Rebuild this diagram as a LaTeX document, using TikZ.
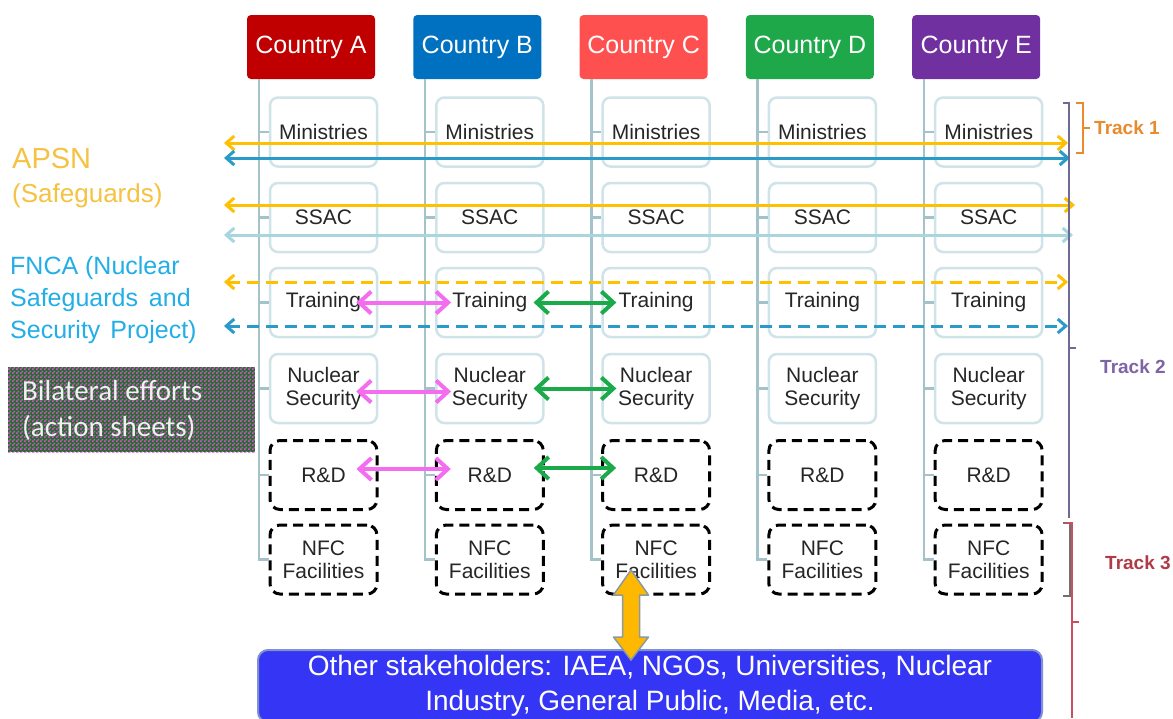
\documentclass[tikz,border=0pt]{standalone}
\usepackage{fontspec}
\setmainfont{Liberation Sans}
\newfontfamily\calib{Carlito}
\usetikzlibrary{arrows.meta,patterns,calc}
\definecolor{cA}{HTML}{C00000}
\definecolor{cB}{HTML}{0070C0}
\definecolor{cC}{HTML}{FF5050}
\definecolor{cD}{HTML}{1EA84A}
\definecolor{cE}{HTML}{7030A0}
\definecolor{boxline}{HTML}{CFE3E8}
\definecolor{trunkc}{HTML}{A3C2CA}
\definecolor{txt}{HTML}{262626}
\definecolor{ylw}{HTML}{FFC000}
\definecolor{blu}{HTML}{2A9BC8}
\definecolor{lblu}{HTML}{A9D5DE}
\definecolor{pnk}{HTML}{F46CF0}
\definecolor{grn}{HTML}{1AAA4A}
\definecolor{botblue}{HTML}{3535F5}
\definecolor{botline}{HTML}{8090D0}
\definecolor{apsn}{HTML}{F5C242}
\definecolor{fnca}{HTML}{22AEE6}
\definecolor{bgreen}{HTML}{236E2C}
\definecolor{bmag}{HTML}{D84FCF}
\definecolor{tr1}{HTML}{E88A2E}
\definecolor{tr2}{HTML}{7E64A6}
\definecolor{tr3}{HTML}{B03A48}
\definecolor{tr2line}{HTML}{6E6A96}
\definecolor{tr3line}{HTML}{C8505E}
\definecolor{nfcbr}{HTML}{707070}
\definecolor{orarrow}{HTML}{FFB800}
\definecolor{orline}{HTML}{8A9AA0}
\pgfdeclarepatternformonly{checker}{\pgfpointorigin}{\pgfqpoint{4pt}{4pt}}{\pgfqpoint{4pt}{4pt}}{%
  \pgfpathrectangle{\pgfpointorigin}{\pgfqpoint{2pt}{2pt}}%
  \pgfpathrectangle{\pgfqpoint{2pt}{2pt}}{\pgfqpoint{2pt}{2pt}}%
  \pgfusepath{fill}}
\tikzset{
  hdr/.style={rounded corners=4pt, minimum width=128pt, minimum height=64pt, inner sep=0pt,
    text=white, font=\fontsize{25}{28}\selectfont},
  sbox/.style={draw=boxline, line width=2.5pt, fill=white, rounded corners=8pt,
    minimum width=107pt, minimum height=69pt, inner sep=0pt, align=center, text=txt,
    font=\fontsize{21}{23}\selectfont},
  dbox/.style={sbox, draw=black, line width=3pt, dash pattern=on 10pt off 6pt, rounded corners=10pt},
  trunk/.style={draw=trunkc, line width=2.5pt},
  longarr/.style={line width=3pt, {Straight Barb[length=8pt,width=14pt]}-{Straight Barb[length=8pt,width=14pt]}},
  pairarr/.style={line width=4pt, {Straight Barb[length=12pt,width=22pt]}-{Straight Barb[length=12pt,width=22pt]}},
  dsh/.style={dash pattern=on 12pt off 7pt},
  trk/.style={font=\bfseries\fontsize{19}{21}\selectfont, anchor=west, inner sep=0pt},
  brk/.style={line width=1.2pt},
}
\begin{document}
\begin{tikzpicture}[x=1pt,y=-1pt]
\useasboundingbox (0,0) rectangle (1173,718);
\fill[white] (0,0) rectangle (1173,718);
% columns
\foreach \i/\L/\c in {0/A/cA,1/B/cB,2/C/cC,3/D/cD,4/E/cE}{
  \pgfmathsetmacro\tx{259+166.3*\i}
  \node[hdr, fill=\c] (h\L) at (\tx+52,47) {Country \L};
  \node[sbox] (min\L) at (\tx+64.5,132) {Ministries};
  \node[sbox] (ssac\L) at (\tx+64.5,217.5) {SSAC};
  \node[sbox] (tr\L) at (\tx+64.5,302.5) {Training};
  \node[sbox] (ns\L) at (\tx+64.5,388.5) {Nuclear\\Security};
  \node[dbox] (rd\L) at (\tx+64.5,475) {R\&D};
  \node[dbox] (nfc\L) at (\tx+64.5,559.5) {NFC\\Facilities};
  \draw[trunk] ([xshift=12pt]h\L.south west) |- (nfc\L.west);
  \foreach \n in {min,ssac,tr,ns,rd} \draw[trunk] (\n\L.west) -- ++(-11,0);
}
% long arrows
\coordinate (l1) at (224,143); \coordinate (r1) at (1068,143);
\coordinate (l2) at (224,158); \coordinate (r2) at (1070,158);
\coordinate (l3) at (224,205); \coordinate (r3) at (1075,205);
\coordinate (l4) at (224,235); \coordinate (r4) at (1073,235);
\coordinate (l5) at (224,282); \coordinate (r5) at (1068,282);
\coordinate (l6) at (224,326); \coordinate (r6) at (1068,326);
\draw[longarr, ylw] (l1) -- (r1);
\draw[longarr, blu] (l2) -- (r2);
\draw[longarr, ylw] (l3) -- (r3);
\draw[longarr, lblu] (l4) -- (r4);
\draw[longarr, ylw, dsh] (l5) -- (r5);
\draw[longarr, blu, dsh] (l6) -- (r6);
% bilateral arrows
\draw[pairarr, pnk] ([xshift=-22pt]trA.east) -- ([xshift=16pt]trB.west);
\draw[pairarr, pnk] ([xshift=-22pt,yshift=-3pt]nsA.east) -- ([xshift=16pt,yshift=-3pt]nsB.west);
\draw[pairarr, pnk] ([xshift=-22pt,yshift=6pt]rdA.east) -- ([xshift=16pt,yshift=6pt]rdB.west);
\draw[pairarr, grn] ([xshift=-11pt]trB.east) -- ([xshift=15pt]trC.west);
\draw[pairarr, grn] ([xshift=-11pt]nsB.east) -- ([xshift=15pt]nsC.west);
\draw[pairarr, grn] ([xshift=-11pt,yshift=7pt]rdB.east) -- ([xshift=15pt,yshift=7pt]rdC.west);
% other stakeholders
\node[draw=botline, line width=2pt, fill=botblue, rounded corners=10pt, minimum width=784pt,
  minimum height=72pt, inner sep=0pt, align=center, text=white,
  font=\fontsize{28}{35}\selectfont] (oth) at (650,686)
  {Other stakeholders: IAEA, NGOs, Universities, Nuclear\\Industry, General Public, Media, etc.};
% orange double block arrow between NFC (C) and the stakeholders box
\coordinate (oat) at (631,570);
\coordinate (oab) at (631,660);
\draw[draw=orline, line width=1.5pt, fill=orarrow, line join=round]
  (oat) -- ++(17.5,25) -- ++(-9,0) -- ($(oab)+(8.5,-23)$) -- ++(9,0) -- (oab)
  -- ++(-17.5,-23) -- ++(9,0) -- ($(oat)+(-8.5,25)$) -- ++(-9,0) -- cycle;
% left texts
\node[anchor=west, inner sep=0pt, text=apsn, font=\fontsize{29}{32}\selectfont] (apsn) at (12,159) {APSN};
\node[anchor=west, inner sep=0pt, text=apsn, font=\fontsize{26}{30}\selectfont] (safe) at (12,196) {(Safeguards)};
\node[anchor=west, inner sep=0pt, text=fnca, font=\fontsize{25}{30}\selectfont] (f1) at (10,268) {FNCA (Nuclear};
\node[anchor=west, inner sep=0pt, text=fnca, font=\fontsize{25}{30}\selectfont] (f2) at (10,300) {Safeguards\hspace{4pt} and};
\node[anchor=west, inner sep=0pt, text=fnca, font=\fontsize{25}{30}\selectfont] (f3) at (10,332) {Security\hspace{3pt} Project)};
\node[fill=bgreen, postaction={pattern=checker, pattern color=bmag}, minimum width=247pt,
  minimum height=85pt, inner sep=0pt] (bil) at (131.5,409.5) {};
\node[anchor=west, inner sep=0pt, align=left, text=white!94!black, font=\calib\fontsize{29}{36}\selectfont]
  (biltxt) at (22,410) {Bilateral efforts\\(action sheets)};
% track brackets
\draw[brk, tr1] (1076,103) -- (1083,103) -- (1083,153) -- (1076,153);
\draw[brk, tr1] (1083,128) -- (1090,128);
\node[trk, text=tr1] (t1) at (1094,128) {Track 1};
\draw[brk, tr2line] (1063,103) -- (1069,103) -- (1069,518);
\draw[brk, tr2line] (1069,348) -- (1076,348);
\node[trk, text=tr2] (t2) at (1100,367) {Track 2};
\draw[brk, nfcbr] (1063,523) -- (1070,523) -- (1070,596) -- (1063,596);
\draw[brk, tr3line] (1066,523) -- (1072,523) -- (1072,718);
\draw[brk, tr3line] (1072,622) -- (1079,622);
\node[trk, text=tr3] (t3) at (1105,563) {Track 3};
\end{tikzpicture}
\end{document}
